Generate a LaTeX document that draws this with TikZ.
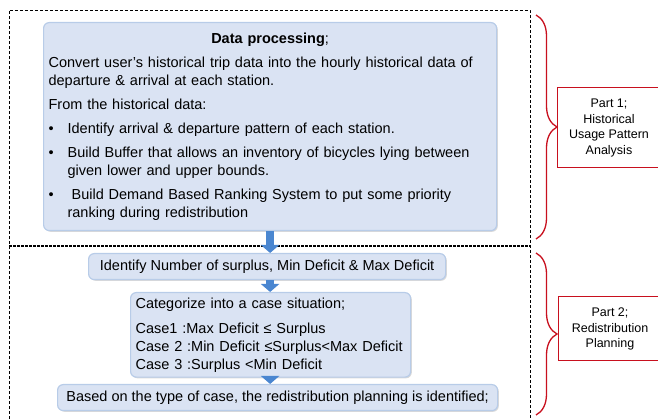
\documentclass[tikz,border=0pt]{standalone}
\usepackage{fontspec}
\setmainfont{Liberation Sans}
\usetikzlibrary{positioning,shadows,arrows.meta,decorations.pathreplacing}
\definecolor{boxFill}{RGB}{218,227,243}
\definecolor{boxLine}{RGB}{184,204,232}
\definecolor{flowBlue}{RGB}{74,134,208}
\definecolor{partRed}{RGB}{200,16,30}
\tikzset{
  procBox/.style={rectangle, rounded corners=2mm, fill=boxFill, draw=boxLine, line width=1.2pt,
    drop shadow={shadow xshift=1.2pt, shadow yshift=-1.2pt, opacity=0.3},
    inner sep=5pt, align=left, anchor=north west, font=\fontsize{14.5}{18}\selectfont},
  partBox/.style={rectangle, draw=partRed, line width=1pt, fill=white, align=center,
    font=\fontsize{12.5}{15.5}\selectfont},
  flow/.style={draw=flowBlue, line width=8pt, -{Triangle[width=18pt,length=8pt]}},
  bracket/.style={draw=partRed, line width=1.3pt, decorate, decoration={brace,amplitude=21pt}},
  frame/.style={densely dashed, line width=0.8pt}
}
% bullet line with hanging indent, \brk breaks inside it
\newcommand{\bul}[1]{\par\hangindent=19pt\hangafter=1\noindent\makebox[19pt][l]{\textbullet}#1}
\newcommand{\brk}{\hfil\break}

\begin{document}
\begin{tikzpicture}[x=1pt,y=1pt]
  \useasboundingbox (0,0) rectangle (658,419);

  % outer frame and split between the two parts
  \draw[frame] (9,-5) |- (530,409) -- (530,-5);
  \draw[dash pattern=on 3pt off 1pt, line width=1.2pt] (9,173) -- (530,173);

  % part 1
  \node[procBox, minimum width=453, minimum height=208, text width=443] (process) at (43,397) {%
    \parindent=0pt\parskip=6pt
    {\centering\textbf{Data processing};\par}
    Convert user's historical trip data into the hourly historical data of\brk
    departure \& arrival at each station.\par
    From the historical data:
    \bul{Identify arrival \& departure pattern of each station.}
    \bul{Build Buffer that allows an inventory of bicycles lying between\brk given lower and upper bounds.}
    \bul{\hspace{4pt}Build Demand Based Ranking System to put some priority\brk ranking during redistribution}\par};

  % part 2
  \node[procBox, minimum width=357, minimum height=26, align=center] (surplus) at (88,166)
    {Identify Number of surplus, Min Deficit \& Max Deficit};
  \node[procBox, minimum width=280, minimum height=79, text width=270] (cases) at (130,127)
    {Categorize into a case situation;\\[7pt]
     Case1 :Max Deficit ≤ Surplus\\
     Case 2 :Min Deficit ≤Surplus<Max Deficit\\
     Case 3 :Surplus <Min Deficit};
  \node[procBox, minimum width=440, minimum height=26, align=center] (plan) at (57,35)
    {Based on the type of case, the redistribution planning is identified;};

  \draw[flow] (process.south) -- (process.south |- surplus.north);
  \draw[flow] (surplus.south -| process.south) -- (cases.north -| process.south);
  \draw[flow] (cases.south -| process.south) -- (plan.north -| process.south);

  % labels on the right
  \node[partBox, minimum width=104, minimum height=80] (part1) at (609,291)
    {Part 1;\\Historical\\Usage Pattern\\Analysis};
  \node[partBox, minimum width=104, minimum height=64] (part2) at (610,90)
    {Part 2;\\Redistribution\\Planning};

  \draw[bracket] (536,404) -- (536,180);
  \draw[bracket] (536,166) -- (536,4);
\end{tikzpicture}
\end{document}
